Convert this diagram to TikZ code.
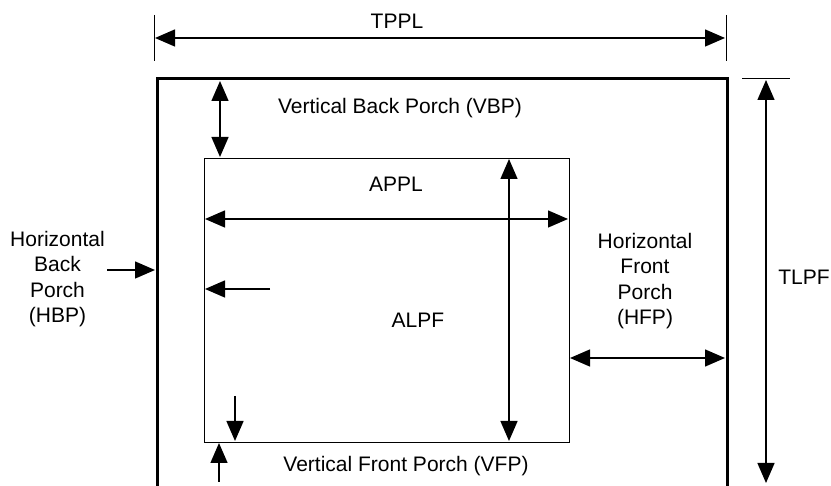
\documentclass[tikz,border=0pt]{standalone}
\usepackage{fontspec}
\setmainfont{Liberation Sans}
\usetikzlibrary{arrows.meta}
\begin{document}
\begin{tikzpicture}[x=1pt,y=-1pt,
  lbl/.style={font=\fontsize{21}{25.5}\selectfont, inner sep=0pt},
  dimline/.style={line width=1.4pt},
  onetip/.style={dimline,-{Triangle[length=20pt,width=17pt]}},
  twotip/.style={dimline,{Triangle[length=20pt,width=17pt]}-{Triangle[length=20pt,width=17pt]}},
  tick/.style={line width=1pt}]
\useasboundingbox (0,0) rectangle (831,486);
% outer frame
\draw[line width=3pt] (157,492) -- (157,79) -- (727,79) -- (727,492);
% inner rectangle
\node[draw, line width=1.2pt, minimum width=365pt, minimum height=284pt, inner sep=0pt, anchor=north west] (inner) at (204,158) {};
% TPPL
\coordinate (tl1) at (154,15); \coordinate (tl2) at (154,61);
\coordinate (tr1) at (726,15); \coordinate (tr2) at (726,61);
\draw[tick] (tl1) -- (tl2);
\draw[tick] (tr1) -- (tr2);
\coordinate (tpa) at (155,38); \coordinate (tpb) at (725,38);
\draw[twotip] (tpa) -- (tpb);
\node[lbl, anchor=base] (tppl) at (397,28.5) {TPPL};
% TLPF
\coordinate (tk1) at (742,79); \coordinate (tk2) at (790,79);
\draw[tick] (tk1) -- (tk2);
\coordinate (tla) at (766,80); \coordinate (tlb) at (766,483);
\draw[twotip] (tla) -- (tlb);
\node[lbl, anchor=base] (tlpf) at (804,284.5) {TLPF};
% VBP
\coordinate (vba) at (220,81); \coordinate (vbb) at (220,157);
\draw[twotip] (vba) -- (vbb);
\node[lbl, anchor=base] (vbp) at (400,114) {Vertical Back Porch (VBP)};
% APPL
\coordinate (apa) at (205,219); \coordinate (apb) at (568,219);
\draw[twotip] (apa) -- (apb);
\node[lbl, anchor=base] (appl) at (396,192) {APPL};
% ALPF
\coordinate (ala) at (509,159); \coordinate (alb) at (509,441);
\draw[twotip] (ala) -- (alb);
\node[lbl, anchor=base] (alpf) at (418,327.5) {ALPF};
% HBP
\node[lbl, align=center] (hbp) at (57.5,279) {Horizontal\\Back\\Porch\\(HBP)};
\coordinate (hba) at (107,270); \coordinate (hbb) at (155,270);
\draw[onetip] (hba) -- (hbb);
\coordinate (ina) at (270,289); \coordinate (inb) at (205,289);
\draw[onetip] (ina) -- (inb);
% HFP
\node[lbl, align=center] (hfp) at (645,281) {Horizontal\\Front\\Porch\\(HFP)};
\coordinate (hfa) at (570,358); \coordinate (hfb) at (725,358);
\draw[twotip] (hfa) -- (hfb);
% VFP
\coordinate (vfa) at (235,396); \coordinate (vfb) at (235,441);
\draw[onetip] (vfa) -- (vfb);
\coordinate (vfc) at (219,482); \coordinate (vfd) at (219,443);
\draw[onetip] (vfc) -- (vfd);
\node[lbl, anchor=base] (vfp) at (406,472) {Vertical Front Porch (VFP)};
\end{tikzpicture}
\end{document}
